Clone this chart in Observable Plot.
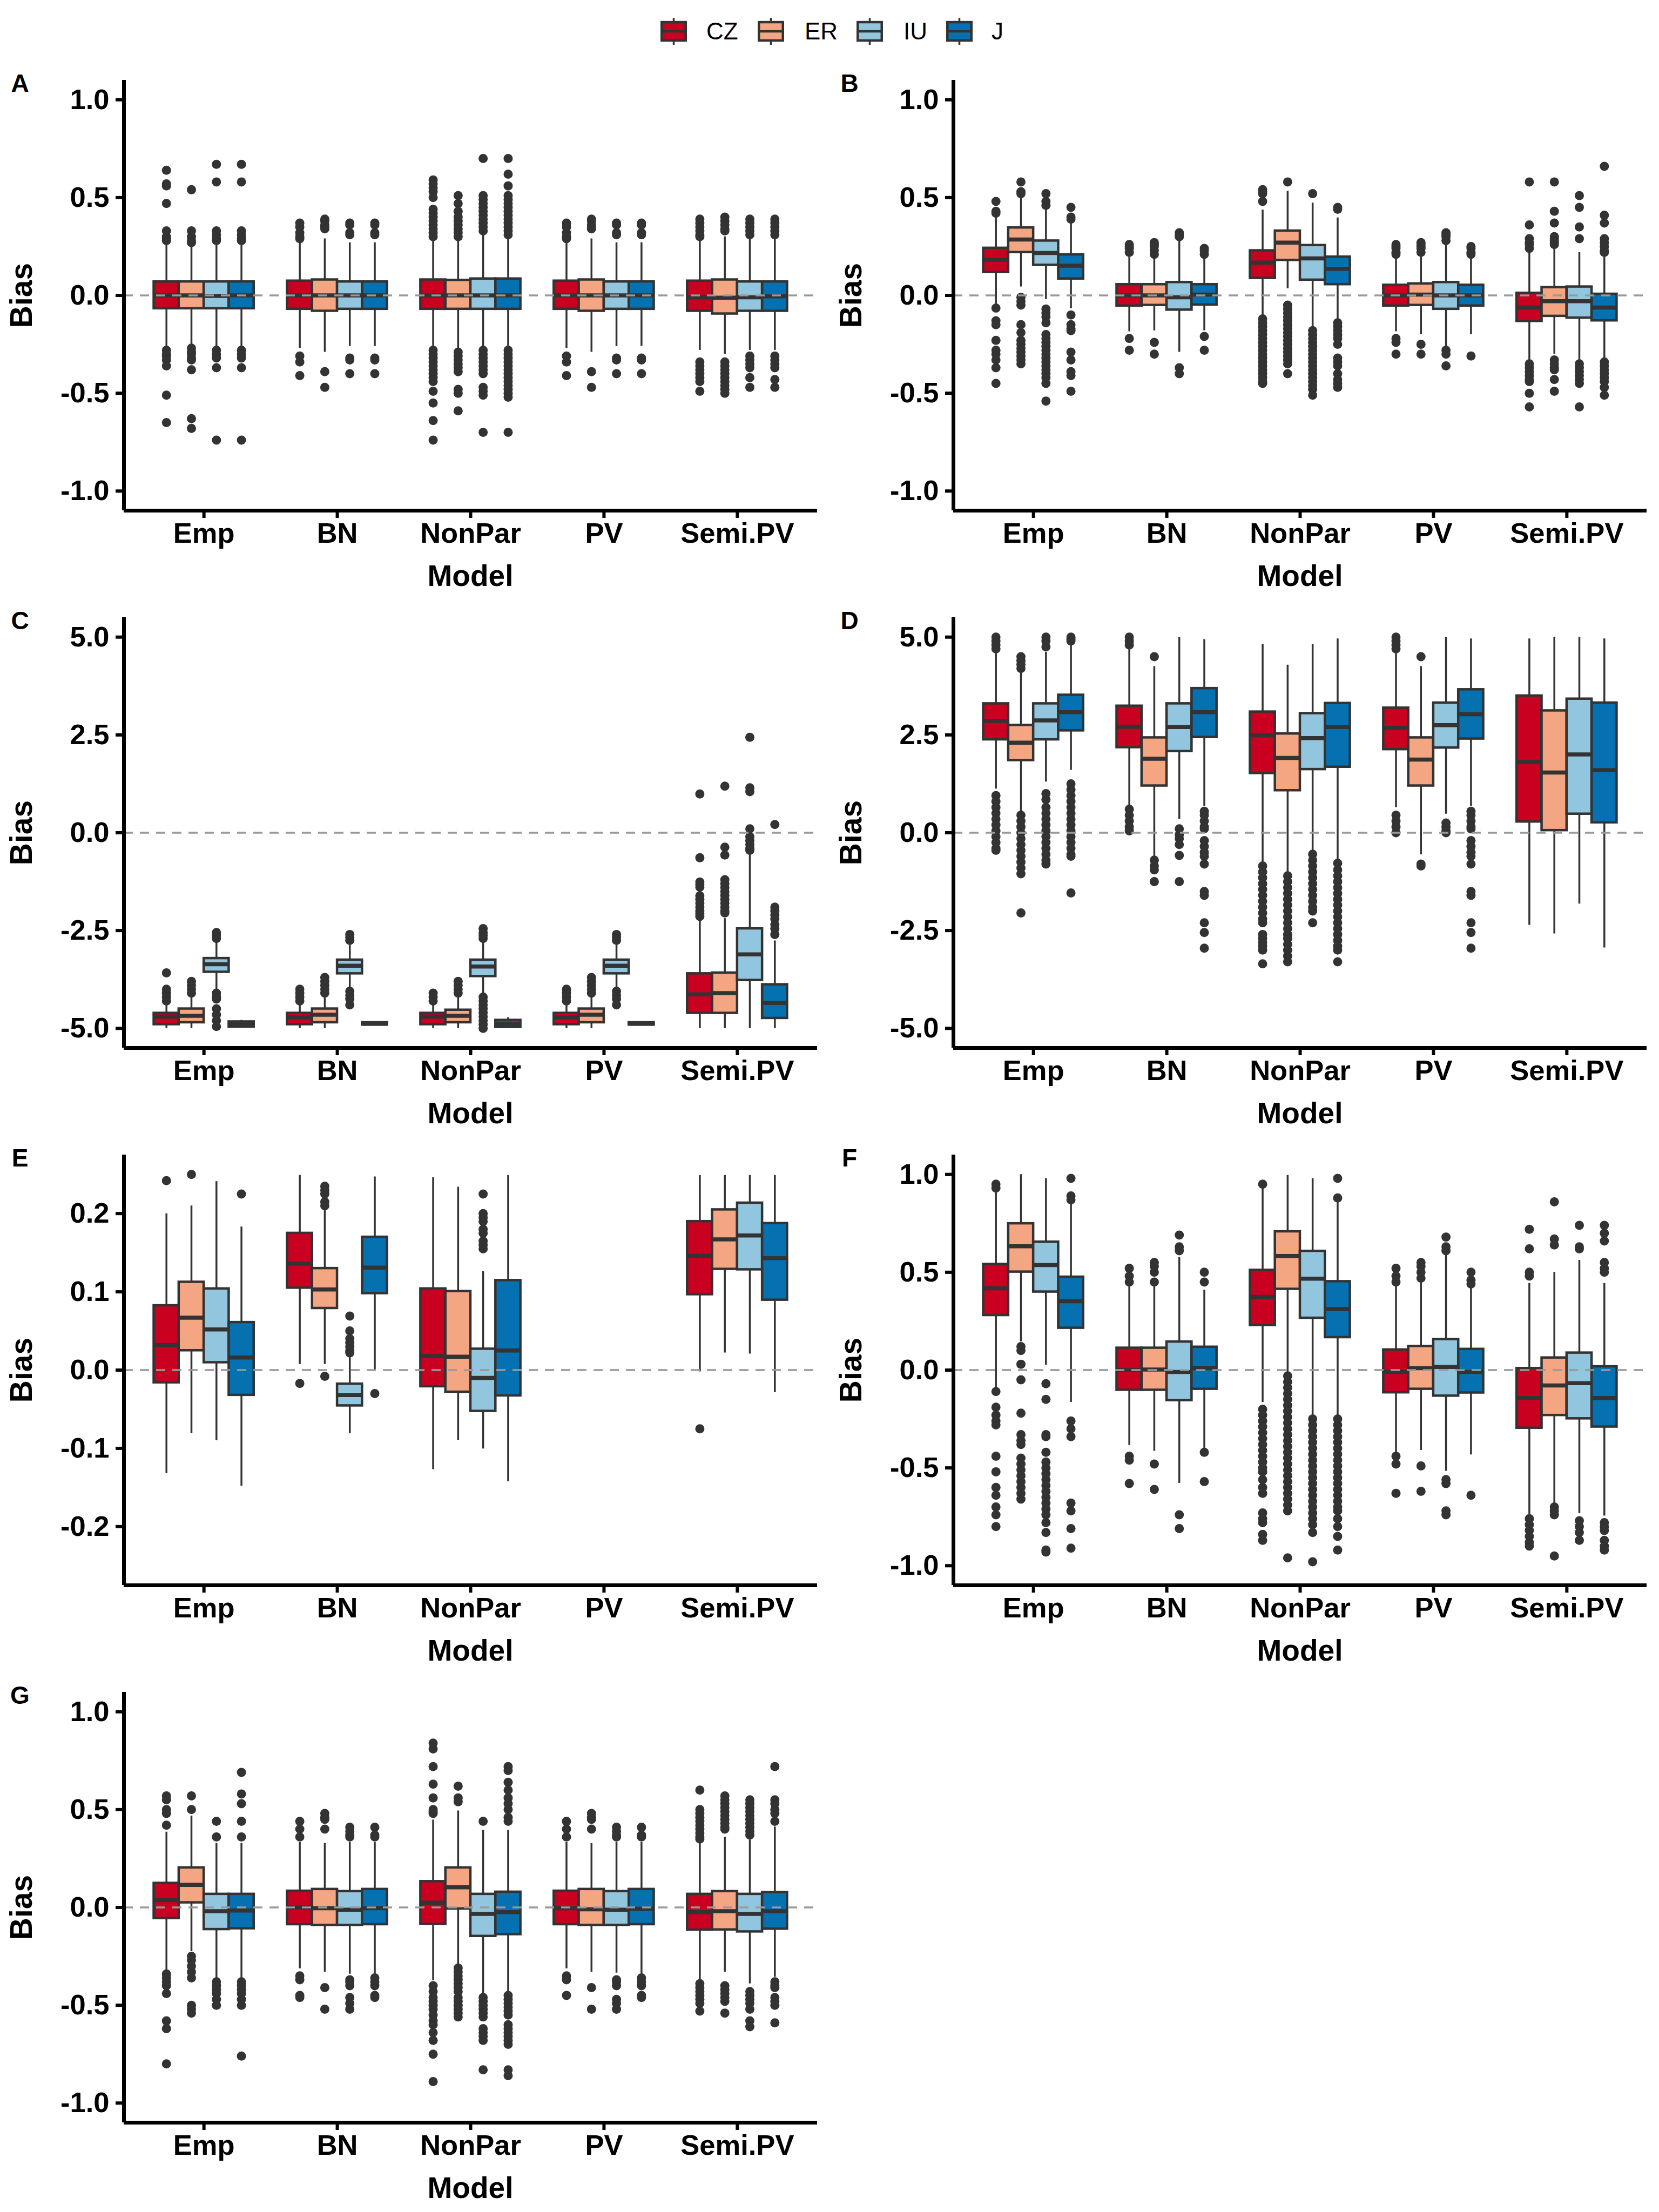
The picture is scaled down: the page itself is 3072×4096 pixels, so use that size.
<!DOCTYPE html>
<html><head><meta charset="utf-8">
<script src="https://cdn.jsdelivr.net/npm/d3@7"></script>
<script src="https://cdn.jsdelivr.net/npm/@observablehq/plot@0.6"></script>
<style>
html,body{margin:0;padding:0;background:#fff;overflow:hidden;}
#root{position:relative;width:3072px;height:4096px;font-family:"Liberation Sans",Arial,Helvetica,sans-serif;color:#000;}
.panel{position:absolute;width:1536px;}
.panel svg{max-width:none !important;}
.lbl{position:absolute;font-weight:bold;white-space:nowrap;line-height:1;}
.ytitle{transform:translate(-50%,-50%) rotate(-90deg);font-size:57px;}
.xtitle{transform:translate(-50%,-50%);font-size:55px;}
.letter{transform:translate(-50%,-50%);font-size:46px;}
.leg{position:absolute;font-size:44px;line-height:1;transform:translateY(-50%);}
svg [aria-label$="-axis tick"]{stroke-width:6px;stroke:#000;}
svg .tick line{stroke-width:6px;stroke:#000;}
svg .domain{display:none;}
</style>
</head><body><div id="root"></div>
<script>
// ---------------- data ----------------
const models = ["Emp", "BN", "NonPar", "PV", "Semi.PV"];
const groups = ["CZ", "ER", "IU", "J"];
const colors = ["#CA0020", "#F4A582", "#92C5DE", "#0571B0"];
const letters = ["A", "B", "C", "D", "E", "F", "G"];
const yTitle = "Bias";
const xTitle = "Model";
const ticksUnit = [-1, -0.5, 0, 0.5, 1];
const ticksFive = [-5, -2.5, 0, 2.5, 5];
const ticksSmall = [-0.2, -0.1, 0, 0.1, 0.2];

// each row: [lower whisker, Q1, median, Q3, upper whisker]; order Emp CZ,ER,IU,J, BN ..., Semi.PV ...
const statsA = [
  [-0.265,-0.067,0,0.07,0.256],[-0.265,-0.067,0,0.07,0.256],[-0.265,-0.067,-0.003,0.07,0.256],[-0.265,-0.067,0,0.07,0.256],
  [-0.27,-0.07,0,0.074,0.27],[-0.29,-0.08,0,0.08,0.29],[-0.26,-0.07,0,0.07,0.27],[-0.26,-0.07,0,0.07,0.27],
  [-0.28,-0.07,0,0.08,0.3],[-0.29,-0.07,0,0.078,0.29],[-0.28,-0.07,0,0.085,0.32],[-0.28,-0.07,0,0.085,0.32],
  [-0.27,-0.07,0,0.074,0.27],[-0.29,-0.08,0,0.08,0.29],[-0.26,-0.07,0,0.07,0.27],[-0.26,-0.07,0,0.07,0.27],
  [-0.28,-0.08,-0.01,0.074,0.28],[-0.3,-0.094,-0.012,0.08,0.3],[-0.28,-0.08,-0.01,0.07,0.3],[-0.28,-0.08,-0.005,0.07,0.3]
];
const outA = [
  [0.64,0.57,0.56,0.47,0.33,0.3,0.29,0.28,-0.28,-0.3,-0.31,-0.33,-0.36,-0.51,-0.65],
  [0.54,0.33,0.3,0.28,0.27,-0.27,-0.29,-0.3,-0.32,-0.33,-0.38,-0.63,-0.68],
  [0.67,0.58,0.33,0.31,0.29,0.28,-0.28,-0.3,-0.32,-0.37,-0.74],
  [0.67,0.58,0.33,0.31,0.29,0.28,-0.28,-0.3,-0.32,-0.37,-0.74],
  [0.37,0.35,0.32,0.3,0.29,-0.31,-0.34,-0.41],
  [0.39,0.38,0.36,0.35,0.34,-0.39,-0.47],
  [0.37,0.36,0.32,0.31,-0.32,-0.33,-0.4],
  [0.37,0.36,0.32,0.31,-0.32,-0.33,-0.4],
  [0.59,0.57,0.55,0.53,0.5,0.44,0.42,0.4,0.38,0.36,0.34,0.32,0.3,-0.28,-0.3,-0.32,-0.34,-0.36,-0.38,-0.4,-0.42,-0.44,-0.49,-0.55,-0.64,-0.74],
  [0.51,0.47,0.43,0.4,0.38,0.36,0.34,0.32,0.3,-0.29,-0.31,-0.33,-0.35,-0.37,-0.39,-0.48,-0.5,-0.59],
  [0.7,0.51,0.49,0.47,0.45,0.43,0.41,0.39,0.37,0.35,0.33,-0.28,-0.3,-0.32,-0.34,-0.36,-0.38,-0.4,-0.47,-0.49,-0.51,-0.7],
  [0.7,0.62,0.56,0.51,0.49,0.47,0.45,0.43,0.41,0.39,0.37,0.35,0.33,0.31,-0.28,-0.3,-0.32,-0.34,-0.36,-0.38,-0.4,-0.42,-0.44,-0.46,-0.48,-0.5,-0.52,-0.7],
  [0.37,0.35,0.32,0.3,0.29,-0.31,-0.34,-0.41],
  [0.39,0.38,0.36,0.35,0.34,-0.39,-0.47],
  [0.37,0.36,0.32,0.31,-0.32,-0.33,-0.4],
  [0.37,0.36,0.32,0.31,-0.32,-0.33,-0.4],
  [0.39,0.37,0.35,0.33,0.31,0.3,-0.34,-0.36,-0.38,-0.4,-0.42,-0.44,-0.49],
  [0.4,0.38,0.36,0.34,0.33,-0.34,-0.36,-0.38,-0.4,-0.42,-0.44,-0.46,-0.48,-0.5],
  [0.39,0.37,0.35,0.33,0.31,-0.31,-0.33,-0.35,-0.37,-0.42,-0.47],
  [0.39,0.37,0.35,0.33,0.31,-0.31,-0.33,-0.35,-0.37,-0.43,-0.47]
];

const statsB = [
  [-0.05,0.118,0.182,0.242,0.397],[0.044,0.22,0.286,0.346,0.5],[-0.02,0.155,0.217,0.279,0.458],[-0.067,0.085,0.152,0.208,0.37],
  [-0.185,-0.053,0,0.056,0.206],[-0.18,-0.05,0,0.056,0.2],[-0.29,-0.074,-0.01,0.067,0.28],[-0.18,-0.048,0.004,0.056,0.2],
  [-0.106,0.088,0.168,0.229,0.437],[0.035,0.18,0.27,0.33,0.533],[-0.16,0.079,0.189,0.256,0.473],[-0.123,0.056,0.136,0.197,0.397],
  [-0.185,-0.053,0,0.053,0.206],[-0.2,-0.05,0.004,0.06,0.216],[-0.26,-0.07,0,0.067,0.28],[-0.2,-0.053,0,0.053,0.2],
  [-0.335,-0.132,-0.062,0.012,0.22],[-0.3,-0.106,-0.03,0.041,0.24],[-0.335,-0.115,-0.03,0.044,0.22],[-0.326,-0.129,-0.062,0.007,0.2]
];
const outB = [
  [0.48,0.43,0.42,-0.065,-0.13,-0.15,-0.23,-0.28,-0.3,-0.33,-0.37,-0.45],
  [0.58,0.53,0.52,-0.01,-0.03,-0.05,-0.15,-0.19,-0.23,-0.25,-0.27,-0.29,-0.31,-0.33,-0.35],
  [0.52,0.48,0.46,-0.07,-0.09,-0.11,-0.14,-0.2,-0.22,-0.24,-0.26,-0.28,-0.3,-0.32,-0.34,-0.36,-0.38,-0.4,-0.42,-0.45,-0.54],
  [0.45,0.4,0.39,-0.1,-0.15,-0.17,-0.18,-0.29,-0.33,-0.39,-0.41,-0.49],
  [0.26,0.25,0.24,0.22,-0.22,-0.28],
  [0.27,0.26,0.25,0.23,0.21,-0.24,-0.3],
  [0.32,0.31,0.3,-0.37,-0.4],
  [0.24,0.23,0.21,-0.21,-0.28],
  [0.54,0.53,0.52,0.48,-0.12,-0.14,-0.16,-0.18,-0.2,-0.22,-0.24,-0.26,-0.28,-0.3,-0.32,-0.34,-0.36,-0.38,-0.4,-0.42,-0.44,-0.45],
  [0.58,-0.05,-0.07,-0.09,-0.11,-0.13,-0.15,-0.17,-0.19,-0.21,-0.23,-0.25,-0.27,-0.29,-0.31,-0.33,-0.35,-0.4],
  [0.52,-0.18,-0.2,-0.22,-0.24,-0.26,-0.28,-0.3,-0.32,-0.34,-0.36,-0.38,-0.4,-0.42,-0.44,-0.46,-0.48,-0.51],
  [0.45,0.44,-0.14,-0.16,-0.18,-0.2,-0.22,-0.25,-0.32,-0.34,-0.36,-0.4,-0.43,-0.45,-0.47],
  [0.26,0.25,0.24,0.22,0.21,-0.22,-0.24,-0.3],
  [0.27,0.26,0.25,0.24,0.22,-0.25,-0.3],
  [0.32,0.31,0.3,0.28,-0.28,-0.3,-0.36],
  [0.25,0.24,0.22,0.21,-0.31],
  [0.58,0.36,0.29,0.27,0.26,0.24,-0.35,-0.37,-0.39,-0.41,-0.43,-0.44,-0.5,-0.57],
  [0.58,0.43,0.37,0.3,0.29,0.28,0.27,0.26,-0.33,-0.35,-0.37,-0.38,-0.43,-0.49],
  [0.51,0.45,0.35,0.29,-0.35,-0.37,-0.39,-0.41,-0.43,-0.45,-0.57],
  [0.66,0.41,0.37,0.29,0.27,0.25,0.23,0.22,-0.34,-0.36,-0.38,-0.4,-0.42,-0.44,-0.47,-0.51]
];

const statsC = [
  [-5.0,-4.9,-4.7,-4.61,-4.35],[-5.0,-4.85,-4.68,-4.5,-4.17],[-4.0,-3.56,-3.36,-3.21,-2.75],[-4.98,-4.96,-4.9,-4.83,-4.79],
  [-5.0,-4.9,-4.72,-4.61,-4.35],[-5.0,-4.85,-4.65,-4.5,-4.13],[-4.0,-3.6,-3.4,-3.25,-2.78],[-4.92,-4.91,-4.88,-4.85,-4.84],
  [-5.0,-4.9,-4.7,-4.61,-4.3],[-5.0,-4.85,-4.68,-4.53,-4.17],[-4.17,-3.67,-3.42,-3.25,-2.75],[-4.98,-4.97,-4.88,-4.79,-4.72],
  [-5.0,-4.9,-4.72,-4.61,-4.35],[-5.0,-4.85,-4.65,-4.5,-4.13],[-4.0,-3.6,-3.4,-3.25,-2.78],[-4.92,-4.91,-4.88,-4.85,-4.84],
  [-5.0,-4.61,-4.13,-3.6,-2.23],[-5.0,-4.61,-4.1,-3.58,-2.19],[-5.0,-3.77,-3.11,-2.45,-0.51],[-5.0,-4.74,-4.35,-3.88,-2.76]
];
const outC = [
  [-3.58,-4.0,-4.1,-4.2,-4.3],
  [-3.8,-3.9,-4.0,-4.1],
  [-2.55,-2.62,-2.7,-4.1,-4.2,-4.25,-4.5,-4.65,-4.8,-4.95],
  [],
  [-4.0,-4.1,-4.2,-4.3],
  [-3.7,-3.8,-3.9,-4.0,-4.1],
  [-2.6,-2.67,-2.75,-4.05,-4.15,-4.25,-4.4],
  [],
  [-4.1,-4.2,-4.3],
  [-3.8,-3.9,-4.0,-4.1],
  [-2.45,-2.55,-2.62,-2.7,-4.2,-4.3,-4.4,-4.5,-4.6,-4.7,-4.8,-4.9,-5.0],
  [],
  [-4.0,-4.1,-4.2,-4.3],
  [-3.7,-3.8,-3.9,-4.0,-4.1],
  [-2.6,-2.67,-2.75,-4.05,-4.15,-4.25,-4.4],
  [],
  [0.99,-0.64,-1.26,-1.32,-1.39,-1.61,-1.7,-1.8,-1.9,-2.0,-2.07,-2.14],
  [1.19,-0.37,-0.57,-1.2,-1.3,-1.4,-1.5,-1.6,-1.7,-1.8,-1.9,-2.0,-2.05],
  [2.44,1.15,1.05,0.1,-0.1,-0.2,-0.3,-0.4,-0.45],
  [0.21,-1.9,-2.0,-2.1,-2.2,-2.35,-2.45,-2.6]
];

const statsD = [
  [1.12,2.38,2.86,3.3,4.62],[0.55,1.85,2.3,2.75,4.1],[1.3,2.38,2.87,3.3,4.62],[1.6,2.61,3.08,3.52,4.85],
  [0.66,2.18,2.71,3.24,4.75],[-0.6,1.2,1.89,2.43,4.25],[0.35,2.08,2.7,3.3,5.0],[0.68,2.44,3.08,3.69,4.94],
  [-0.82,1.52,2.49,3.09,4.82],[-1.04,1.08,1.91,2.53,4.29],[-0.49,1.62,2.42,3.05,4.82],[-0.73,1.68,2.7,3.31,4.96],
  [0.65,2.13,2.68,3.19,4.6],[-0.56,1.2,1.87,2.43,4.25],[0.48,2.17,2.75,3.32,5.0],[0.68,2.4,3.03,3.66,4.96],
  [-2.36,0.28,1.81,3.5,4.96],[-2.58,0.06,1.54,3.12,5.0],[-1.82,0.48,2.0,3.42,5.0],[-2.94,0.26,1.6,3.32,4.96]
];
const outD = [
  [5.0,4.9,4.8,4.7,0.95,0.8,0.65,0.5,0.35,0.2,0.05,-0.1,-0.25,-0.4,-0.45],
  [4.5,4.4,4.3,4.2,0.45,0.3,0.15,0.0,-0.15,-0.3,-0.45,-0.6,-0.75,-0.9,-1.05,-2.05],
  [5.0,4.9,4.75,1.0,0.85,0.65,0.5,0.35,0.2,0.05,-0.1,-0.25,-0.4,-0.55,-0.7,-0.8],
  [5.0,4.95,4.9,1.25,1.1,0.95,0.8,0.65,0.5,0.35,0.2,0.05,-0.1,-0.25,-0.4,-0.55,-0.6,-1.54],
  [5.0,4.9,4.8,0.6,0.45,0.3,0.15,0.05],
  [4.5,-0.7,-0.85,-0.95,-1.25],
  [0.1,-0.05,-0.15,-0.3,-0.58,-1.25],
  [0.55,0.45,0.3,0.15,0.1,-0.2,-0.35,-0.5,-0.6,-0.8,-1.5,-1.6,-2.3,-2.55,-2.95],
  [-0.85,-1.0,-1.15,-1.3,-1.45,-1.6,-1.75,-1.9,-2.05,-2.2,-2.3,-2.6,-2.7,-2.8,-2.9,-3.0,-3.35],
  [-1.1,-1.25,-1.4,-1.55,-1.7,-1.85,-2.0,-2.15,-2.3,-2.45,-2.6,-2.7,-2.85,-3.0,-3.15,-3.3],
  [-0.55,-0.7,-0.85,-1.0,-1.15,-1.3,-1.45,-1.6,-1.75,-1.9,-2.0,-2.3],
  [-0.78,-0.95,-1.1,-1.25,-1.4,-1.55,-1.7,-1.85,-2.0,-2.15,-2.3,-2.45,-2.6,-2.75,-2.9,-3.0,-3.3],
  [5.0,4.9,4.8,4.7,0.45,0.3,0.15,0.0],
  [4.5,-0.8,-0.85],
  [0.25,0.15,0.05,0.0],
  [0.55,0.45,0.3,0.15,0.1,-0.2,-0.35,-0.5,-0.6,-0.8,-1.5,-1.6,-2.3,-2.55,-2.95],
  [],[],[],[]
];

const statsE = [
  [-0.132,-0.016,0.032,0.0825,0.2],[-0.081,0.025,0.067,0.1125,0.21],[-0.09,0.0097,0.052,0.104,0.241],[-0.148,-0.032,0.016,0.061,0.183],
  [0.0075,0.105,0.136,0.175,0.249],[0.0075,0.079,0.103,0.13,0.206],[-0.081,-0.0455,-0.032,-0.0177,0.0185],[0.0,0.098,0.131,0.17,0.247],
  [-0.127,-0.021,0.0177,0.104,0.246],[-0.0896,-0.028,0.017,0.1006,0.234],[-0.1006,-0.0525,-0.01,0.027,0.126],[-0.1425,-0.0327,0.025,0.1147,0.249],
  null,null,null,null,
  [-0.002,0.0966,0.146,0.19,0.249],[0.022,0.129,0.167,0.205,0.249],[0.0207,0.1284,0.172,0.2136,0.249],[-0.0287,0.0896,0.143,0.1875,0.249]
];
const outE = [
  [0.242],[0.25],[],[0.225],
  [-0.017],[0.235,0.23,0.225,0.215,0.21,-0.008],[0.069,0.05,0.04,0.035,0.03,0.025,0.022],[-0.03],
  [],[],[0.225,0.2,0.195,0.19,0.18,0.175,0.165,0.16,0.155],[],
  [],[],[],[],
  [-0.075],[],[],[]
];

const statsF = [
  [-0.093,0.28,0.418,0.541,0.91],[0.145,0.502,0.633,0.749,1.0],[0.026,0.4,0.537,0.655,0.98],[-0.164,0.215,0.352,0.476,0.85],
  [-0.384,-0.102,0,0.113,0.435],[-0.414,-0.102,0.003,0.113,0.444],[-0.578,-0.155,-0.01,0.1445,0.576],[-0.42,-0.097,0.01,0.118,0.409],
  [-0.164,0.229,0.374,0.511,0.93],[-0.023,0.414,0.583,0.708,0.996],[-0.234,0.266,0.467,0.608,0.98],[-0.234,0.167,0.312,0.453,0.86],
  [-0.42,-0.115,-0.01,0.104,0.435],[-0.41,-0.097,0.01,0.122,0.46],[-0.516,-0.132,0.016,0.157,0.594],[-0.433,-0.116,-0.01,0.107,0.43],
  [-0.737,-0.296,-0.143,0.009,0.444],[-0.684,-0.231,-0.079,0.063,0.5],[-0.733,-0.248,-0.067,0.088,0.562],[-0.745,-0.29,-0.143,0.018,0.444]
];
const outF = [
  [0.95,0.93,-0.11,-0.19,-0.23,-0.26,-0.28,-0.44,-0.52,-0.6,-0.64,-0.7,-0.74,-0.8],
  [0.12,0.1,0.03,-0.05,-0.22,-0.33,-0.36,-0.38,-0.45,-0.48,-0.51,-0.54,-0.57,-0.6,-0.63,-0.66],
  [-0.07,-0.15,-0.33,-0.34,-0.42,-0.47,-0.5,-0.53,-0.56,-0.59,-0.62,-0.65,-0.68,-0.71,-0.74,-0.78,-0.83,-0.92,-0.93],
  [0.98,0.89,0.87,-0.26,-0.3,-0.34,-0.68,-0.72,-0.81,-0.91],
  [0.52,0.48,0.45,-0.44,-0.46,-0.58],
  [0.55,0.53,0.5,0.45,-0.48,-0.61],
  [0.69,0.63,0.61,-0.74,-0.81],
  [0.5,0.45,-0.42,-0.57],
  [0.95,-0.2,-0.23,-0.26,-0.29,-0.32,-0.35,-0.38,-0.41,-0.44,-0.47,-0.5,-0.52,-0.56,-0.6,-0.63,-0.73,-0.76,-0.78,-0.84,-0.87],
  [-0.03,-0.06,-0.09,-0.12,-0.15,-0.18,-0.21,-0.24,-0.27,-0.3,-0.33,-0.36,-0.39,-0.42,-0.45,-0.48,-0.51,-0.54,-0.57,-0.6,-0.63,-0.66,-0.69,-0.72,-0.96],
  [-0.25,-0.28,-0.31,-0.34,-0.37,-0.4,-0.43,-0.46,-0.49,-0.52,-0.55,-0.58,-0.61,-0.64,-0.67,-0.7,-0.73,-0.76,-0.79,-0.83,-0.98],
  [0.98,0.88,-0.25,-0.28,-0.31,-0.34,-0.37,-0.4,-0.43,-0.46,-0.49,-0.52,-0.55,-0.58,-0.61,-0.64,-0.67,-0.7,-0.72,-0.76,-0.8,-0.85,-0.92],
  [0.52,0.48,0.45,-0.44,-0.48,-0.63],
  [0.55,0.53,0.5,0.47,-0.49,-0.62],
  [0.68,0.63,0.61,-0.56,-0.58,-0.72,-0.74],
  [0.5,0.46,0.44,-0.64],
  [0.72,0.62,0.5,0.48,-0.76,-0.79,-0.82,-0.85,-0.88,-0.9],
  [0.86,0.67,0.64,-0.7,-0.72,-0.74,-0.95],
  [0.74,0.63,0.62,-0.77,-0.8,-0.83,-0.87],
  [0.74,0.7,0.66,0.55,0.52,0.5,-0.78,-0.8,-0.82,-0.87,-0.9,-0.92]
];

const statsG = [
  [-0.32,-0.056,0.037,0.124,0.386],[-0.225,0.0245,0.115,0.203,0.468],[-0.365,-0.112,-0.019,0.068,0.328],[-0.365,-0.108,-0.016,0.068,0.328],
  [-0.313,-0.087,0,0.084,0.333],[-0.33,-0.091,-0.004,0.093,0.328],[-0.34,-0.091,-0.012,0.082,0.333],[-0.34,-0.087,-0.004,0.093,0.333],
  [-0.374,-0.086,0.024,0.133,0.447],[-0.295,-0.007,0.103,0.203,0.494],[-0.444,-0.147,-0.033,0.068,0.395],[-0.435,-0.138,-0.024,0.079,0.395],
  [-0.313,-0.087,-0.004,0.084,0.333],[-0.33,-0.091,-0.01,0.093,0.328],[-0.335,-0.091,-0.012,0.082,0.333],[-0.34,-0.087,-0.007,0.093,0.333],
  [-0.374,-0.115,-0.024,0.068,0.328],[-0.33,-0.114,-0.019,0.082,0.36],[-0.39,-0.124,-0.033,0.068,0.346],[-0.356,-0.11,-0.019,0.077,0.412]
];
const outG = [
  [0.57,0.55,0.5,0.48,0.42,-0.34,-0.36,-0.38,-0.4,-0.44,-0.58,-0.62,-0.8],
  [0.57,0.5,-0.25,-0.27,-0.3,-0.33,-0.36,-0.5,-0.52,-0.54],
  [0.44,0.36,-0.38,-0.4,-0.42,-0.44,-0.47,-0.5],
  [0.69,0.58,0.53,0.44,0.36,-0.38,-0.4,-0.42,-0.44,-0.47,-0.5,-0.76],
  [0.44,0.4,0.36,-0.35,-0.37,-0.45,-0.46],
  [0.48,0.46,0.45,0.4,-0.41,-0.52],
  [0.41,0.39,0.37,0.36,-0.37,-0.38,-0.4,-0.46,-0.49,-0.52],
  [0.41,0.37,0.36,-0.36,-0.38,-0.4,-0.45,-0.46],
  [0.84,0.81,0.72,0.63,0.56,0.5,0.49,0.48,-0.4,-0.43,-0.46,-0.48,-0.5,-0.52,-0.55,-0.58,-0.6,-0.64,-0.68,-0.75,-0.89],
  [0.62,0.56,0.54,-0.31,-0.33,-0.35,-0.37,-0.39,-0.41,-0.43,-0.46,-0.48,-0.5,-0.52,-0.54,-0.56],
  [0.44,-0.46,-0.48,-0.5,-0.52,-0.54,-0.56,-0.62,-0.64,-0.66,-0.68,-0.83],
  [0.72,0.7,0.64,0.6,0.56,0.53,0.5,0.46,0.44,-0.45,-0.47,-0.49,-0.51,-0.53,-0.55,-0.6,-0.62,-0.64,-0.66,-0.68,-0.7,-0.83,-0.86],
  [0.44,0.4,0.36,-0.35,-0.37,-0.45],
  [0.48,0.46,0.45,0.4,-0.41,-0.52],
  [0.41,0.39,0.37,0.36,-0.37,-0.38,-0.4,-0.47,-0.49,-0.52],
  [0.41,0.37,0.36,-0.36,-0.38,-0.4,-0.45,-0.46],
  [0.6,0.5,0.48,0.46,0.44,0.42,0.4,0.38,0.36,0.35,-0.39,-0.41,-0.43,-0.45,-0.47,-0.49,-0.53],
  [0.57,0.55,0.53,0.51,0.49,0.47,0.45,0.43,0.41,0.4,-0.4,-0.42,-0.44,-0.46,-0.48,-0.54],
  [0.55,0.53,0.51,0.49,0.47,0.45,0.43,0.41,0.39,0.37,-0.43,-0.45,-0.47,-0.49,-0.52,-0.58,-0.61],
  [0.72,0.55,0.53,0.5,0.48,0.44,-0.38,-0.4,-0.41,-0.46,-0.48,-0.5,-0.59]
];

const panels = [
  {stats: statsA, outs: outA, domain: [-1.1, 1.1], ticks: ticksUnit},
  {stats: statsB, outs: outB, domain: [-1.1, 1.1], ticks: ticksUnit},
  {stats: statsC, outs: outC, domain: [-5.5, 5.5], ticks: ticksFive},
  {stats: statsD, outs: outD, domain: [-5.5, 5.5], ticks: ticksFive},
  {stats: statsE, outs: outE, domain: [-0.275, 0.275], ticks: ticksSmall},
  {stats: statsF, outs: outF, domain: [-1.1, 1.1], ticks: ticksUnit},
  {stats: statsG, outs: outG, domain: [-1.1, 1.1], ticks: ticksUnit}
];

// ---------------- layout (px) ----------------
const W = 1536, ML = 229, MR = 23, MT = 60, PH = 797, MB = 150;
const ROW0 = 88, ROWSTEP = 995;
const root = document.getElementById("root");

function makePanel(p) {
  const n = groups.length;
  const dodge = 0.75 / n;
  const boxes = [], pts = [];
  p.stats.forEach((s, i) => {
    const m = Math.floor(i / n), g = i % n;
    const cx = m + (g - (n - 1) / 2) * dodge;
    if (s) boxes.push({group: groups[g], cx, x1: cx - dodge / 2, x2: cx + dodge / 2,
      lo: s[0], q1: s[1], med: s[2], q3: s[3], hi: s[4]});
    for (const v of (p.outs[i] || [])) pts.push({group: groups[g], cx, y: v});
  });
  const xDomain = [-0.6, models.length - 1 + 0.6];
  return Plot.plot({
    width: W, height: MT + PH + MB,
    marginLeft: ML, marginRight: MR, marginTop: MT, marginBottom: MB,
    style: {background: "transparent", fontSize: "52.5px", fontWeight: "bold",
      fontFamily: "'Liberation Sans', Arial, Helvetica, sans-serif", color: "#000", overflow: "visible"},
    x: {domain: xDomain, ticks: d3.range(models.length), tickFormat: i => models[i],
      tickSize: 14, tickPadding: 8, label: null},
    y: {domain: p.domain, ticks: p.ticks, tickFormat: d => d.toFixed(1),
      tickSize: 15, tickPadding: 12, label: null},
    color: {domain: groups, range: colors},
    marks: [
      Plot.ruleX(boxes, {x: "cx", y1: "lo", y2: "hi", stroke: "#333333", strokeWidth: 3.5}),
      Plot.dot(pts, {x: "cx", y: "y", r: 8.5, fill: "#333333", stroke: "none"}),
      Plot.rect(boxes, {x1: "x1", x2: "x2", y1: "q1", y2: "q3", fill: "group", stroke: "#333333", strokeWidth: 4.5}),
      Plot.ruleY(boxes, {x1: "x1", x2: "x2", y: "med", stroke: "#333333", strokeWidth: 7.5}),
      Plot.ruleY([0], {stroke: "#999999", strokeWidth: 3.5, strokeDasharray: "17,13"}),
      Plot.ruleX([xDomain[0]], {stroke: "#000", strokeWidth: 7}),
      Plot.ruleY([p.domain[0]], {stroke: "#000", strokeWidth: 7})
    ]
  });
}

panels.forEach((p, k) => {
  const col = k % 2, row = Math.floor(k / 2);
  const left = col * W, top = ROW0 + row * ROWSTEP;
  const div = document.createElement("div");
  div.className = "panel";
  div.style.left = left + "px";
  div.style.top = top + "px";
  div.appendChild(makePanel(p));
  root.appendChild(div);

  const addLbl = (cls, text, x, y) => {
    const d = document.createElement("div");
    d.className = "lbl " + cls;
    d.textContent = text;
    d.style.left = x + "px";
    d.style.top = y + "px";
    root.appendChild(d);
  };
  addLbl("letter", letters[k], left + 37, top + MT + 6);
  addLbl("ytitle", yTitle, left + 39, top + MT + PH / 2);
  addLbl("xtitle", xTitle, left + ML + (W - ML - MR) / 2, top + MT + PH + 121);
});

// ---------------- legend ----------------
const legendY = 58;
const keyLeft = [1223, 1403, 1586, 1752];
const textLeft = [1308, 1490, 1673, 1836];
groups.forEach((g, i) => {
  const ns = "http://www.w3.org/2000/svg";
  const svg = document.createElementNS(ns, "svg");
  svg.setAttribute("width", 49); svg.setAttribute("height", 50);
  svg.style.position = "absolute";
  svg.style.left = keyLeft[i] + "px";
  svg.style.top = (legendY - 25) + "px";
  svg.innerHTML =
    `<line x1="24.5" x2="24.5" y1="0" y2="50" stroke="#333" stroke-width="3.5"/>` +
    `<rect x="2.25" y="8" width="44.5" height="34" fill="${colors[i]}" stroke="#333" stroke-width="4.5"/>` +
    `<line x1="2" x2="47" y1="25" y2="25" stroke="#333" stroke-width="4.5"/>`;
  root.appendChild(svg);
  const t = document.createElement("div");
  t.className = "leg";
  t.textContent = g;
  t.style.left = textLeft[i] + "px";
  t.style.top = legendY + "px";
  root.appendChild(t);
});
</script>
</body></html>
